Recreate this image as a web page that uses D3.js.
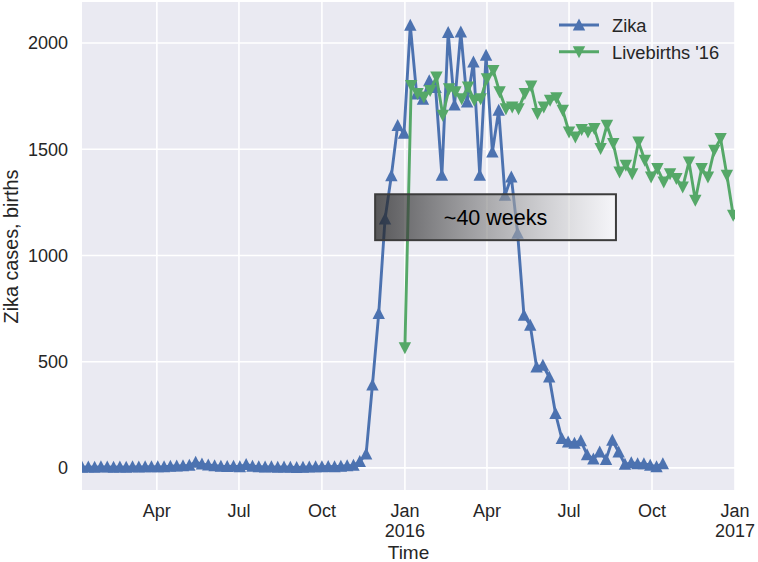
<!DOCTYPE html>
<html>
<head>
<meta charset="utf-8">
<script src="https://cdn.jsdelivr.net/npm/d3@7"></script>
<style>
  html, body { margin: 0; padding: 0; background: #fff; }
  svg { display: block; font-family: "Liberation Sans", Arial, sans-serif; }
</style>
</head>
<body>
<svg id="chart" width="758" height="562"></svg>
<script>
// 数据
// ====
const zikaStart = new Date(2015, 0, 8)
const birthsStart = new Date(2016, 0, 1)

// weekly Zika cases, from 2015-01-08
const zikaCases = [
  3, 4, 3, 5, 4, 3, 4, 3, 5, 4, 5, 6, 5, 6, 8, 9, 10, 12,
  27, 18, 14, 10, 8, 7, 8, 6, 16, 8, 6,
  4, 5, 3, 4, 3, 2, 3, 4, 5, 6, 7, 6, 8, 10,
  12, 30, 65, 390, 727, 1172, 1375, 1612, 1575,
  2083, 1760, 1735, 1822, 1790, 1377, 2050, 1708, 2052, 1722, 1910, 1377, 1942, 1487, 1683,
  1283, 1369, 1104, 718, 671, 475, 483, 428, 256, 138, 122, 116, 128,
  62, 42, 75, 40, 130, 75, 17, 24, 20, 20, 13, 6, 20
]

// weekly live births 2016, from 2016-01-01
const livebirths = [
  565, 1800, 1762, 1746, 1777, 1840, 1660, 1785, 1770, 1738, 1793, 1730, 1738,
  1832, 1871, 1770, 1691, 1699, 1691, 1762, 1798, 1668, 1699, 1730, 1742, 1683,
  1581, 1558, 1593, 1581, 1597, 1503, 1613, 1527, 1393, 1425, 1385, 1534, 1448,
  1369, 1409, 1346, 1385, 1362, 1322, 1440, 1260, 1409, 1369, 1495, 1550, 1377, 1189
]

const yTicks = [0, 500, 1000, 1500, 2000]
const xTicks = [
  new Date(2015, 3, 1), new Date(2015, 6, 1), new Date(2015, 9, 1), new Date(2016, 0, 1),
  new Date(2016, 3, 1), new Date(2016, 6, 1), new Date(2016, 9, 1), new Date(2017, 0, 1)
]
const xTickLabels = [['Apr'], ['Jul'], ['Oct'], ['Jan', '2016'], ['Apr'], ['Jul'], ['Oct'], ['Jan', '2017']]

const seriesNames = ['Zika', "Livebirths '16"]
const spanLabel = '~40 weeks'
const spanDates = [new Date(2015, 10, 29), new Date(2016, 7, 22)]
const spanValues = [1072, 1288]

const addWeeks = (start, n) => d3.timeDay.offset(start, n * 7)
const zikaData = zikaCases.map((v, i) => ({ date: addWeeks(zikaStart, i), value: v }))
const birthData = livebirths.map((v, i) => ({ date: addWeeks(birthsStart, i), value: v }))

// 布局
// ====
const plot = { left: 82, right: 735, top: 2, bottom: 490 }
const colors = { zika: '#4c72b0', births: '#55a868', bg: '#eaeaf2', text: '#262626' }

const x = d3.scaleTime()
  .domain([zikaStart, new Date(2017, 0, 1)])
  .range([plot.left, plot.right])

const y = d3.scaleLinear()
  .domain([-104, 2193])
  .range([plot.bottom, plot.top])

const svg = d3.select('#chart')

svg.append('defs').append('clipPath')
  .attr('id', 'plot-clip')
  .append('rect')
  .attr('x', plot.left)
  .attr('y', plot.top)
  .attr('width', plot.right - plot.left)
  .attr('height', plot.bottom - plot.top)

const grad = svg.select('defs').append('linearGradient')
  .attr('id', 'span-grad')
  .attr('x1', '0%').attr('x2', '100%')
  .attr('y1', '0%').attr('y2', '0%')
grad.append('stop').attr('offset', '0%').attr('stop-color', '#1e1e1e').attr('stop-opacity', 0.72)
grad.append('stop').attr('offset', '100%').attr('stop-color', '#ffffff').attr('stop-opacity', 0.55)

// background
svg.append('rect')
  .attr('x', plot.left)
  .attr('y', plot.top)
  .attr('width', plot.right - plot.left)
  .attr('height', plot.bottom - plot.top)
  .attr('fill', colors.bg)

/**
 * 网格线与刻度文字
 */
function drawAxes(g) {
  g.append('g')
    .selectAll('line')
    .data(xTicks)
    .join('line')
    .attr('x1', d => x(d)).attr('x2', d => x(d))
    .attr('y1', plot.top).attr('y2', plot.bottom)
    .attr('stroke', '#fff')
    .attr('stroke-width', 1.6)

  g.append('g')
    .selectAll('line')
    .data(yTicks)
    .join('line')
    .attr('x1', plot.left).attr('x2', plot.right)
    .attr('y1', d => y(d)).attr('y2', d => y(d))
    .attr('stroke', '#fff')
    .attr('stroke-width', 1.6)

  g.append('g')
    .selectAll('text')
    .data(yTicks)
    .join('text')
    .attr('x', 68)
    .attr('y', d => y(d))
    .attr('dy', '0.35em')
    .attr('text-anchor', 'end')
    .attr('font-size', 18)
    .attr('fill', colors.text)
    .text(d => d)

  const xt = g.append('g')
    .selectAll('text')
    .data(xTicks)
    .join('text')
    .attr('x', d => x(d))
    .attr('y', 516.5)
    .attr('text-anchor', 'middle')
    .attr('font-size', 18)
    .attr('fill', colors.text)

  xt.selectAll('tspan')
    .data((d, i) => xTickLabels[i])
    .join('tspan')
    .attr('x', function () { return this.parentNode.getAttribute('x') })
    .attr('dy', (d, i) => i === 0 ? 0 : 20)
    .text(d => d)

  g.append('text')
    .attr('transform', `translate(17.5,${(plot.top + plot.bottom) / 2 + 0.5}) rotate(-90)`)
    .attr('text-anchor', 'middle')
    .attr('font-size', 19.8)
    .attr('fill', colors.text)
    .text('Zika cases, births')

  g.append('text')
    .attr('x', (plot.left + plot.right) / 2)
    .attr('y', 558.5)
    .attr('text-anchor', 'middle')
    .attr('font-size', 19)
    .attr('fill', colors.text)
    .text('Time')
}

const triUp = 'M0,-6.5L6.2,5.5L-6.2,5.5Z'
const triDown = 'M0,6.5L6.2,-5.5L-6.2,-5.5Z'

/**
 * 折线加三角标记
 */
function drawSeries(g, data, color, marker) {
  const line = d3.line()
    .x(d => x(d.date))
    .y(d => y(d.value))

  g.append('path')
    .datum(data)
    .attr('d', line)
    .attr('fill', 'none')
    .attr('stroke', color)
    .attr('stroke-width', 2.9)
    .attr('stroke-linejoin', 'round')

  g.append('g')
    .selectAll('path')
    .data(data)
    .join('path')
    .attr('transform', d => `translate(${x(d.date)},${y(d.value)})`)
    .attr('d', marker)
    .attr('fill', color)
}

svg.append('g').call(drawAxes)

const marks = svg.append('g').attr('clip-path', 'url(#plot-clip)')
marks.append('g').call(drawSeries, zikaData, colors.zika, triUp)
marks.append('g').call(drawSeries, birthData, colors.births, triDown)

// ~40 weeks 标注框
const span = svg.append('g')
span.append('rect')
  .attr('x', x(spanDates[0]))
  .attr('y', y(spanValues[1]))
  .attr('width', x(spanDates[1]) - x(spanDates[0]))
  .attr('height', y(spanValues[0]) - y(spanValues[1]))
  .attr('fill', 'url(#span-grad)')
  .attr('stroke', '#3c3c3c')
  .attr('stroke-width', 2)
span.append('text')
  .attr('x', (x(spanDates[0]) + x(spanDates[1])) / 2)
  .attr('y', (y(spanValues[0]) + y(spanValues[1])) / 2)
  .attr('dy', '0.36em')
  .attr('text-anchor', 'middle')
  .attr('font-size', 21.5)
  .attr('fill', '#000')
  .text(spanLabel)

// 图例
const legend = svg.append('g')
  .selectAll('g')
  .data(seriesNames)
  .join('g')
  .attr('transform', (d, i) => `translate(559,${25 + i * 26.7})`)

legend.append('line')
  .attr('x1', 0).attr('x2', 40)
  .attr('stroke', (d, i) => i === 0 ? colors.zika : colors.births)
  .attr('stroke-width', 2.9)
legend.append('path')
  .attr('transform', 'translate(20,0)')
  .attr('d', (d, i) => i === 0 ? triUp : triDown)
  .attr('fill', (d, i) => i === 0 ? colors.zika : colors.births)
legend.append('text')
  .attr('x', 53)
  .attr('y', 7)
  .attr('font-size', 18.3)
  .attr('fill', colors.text)
  .text(d => d)
</script>
</body>
</html>
